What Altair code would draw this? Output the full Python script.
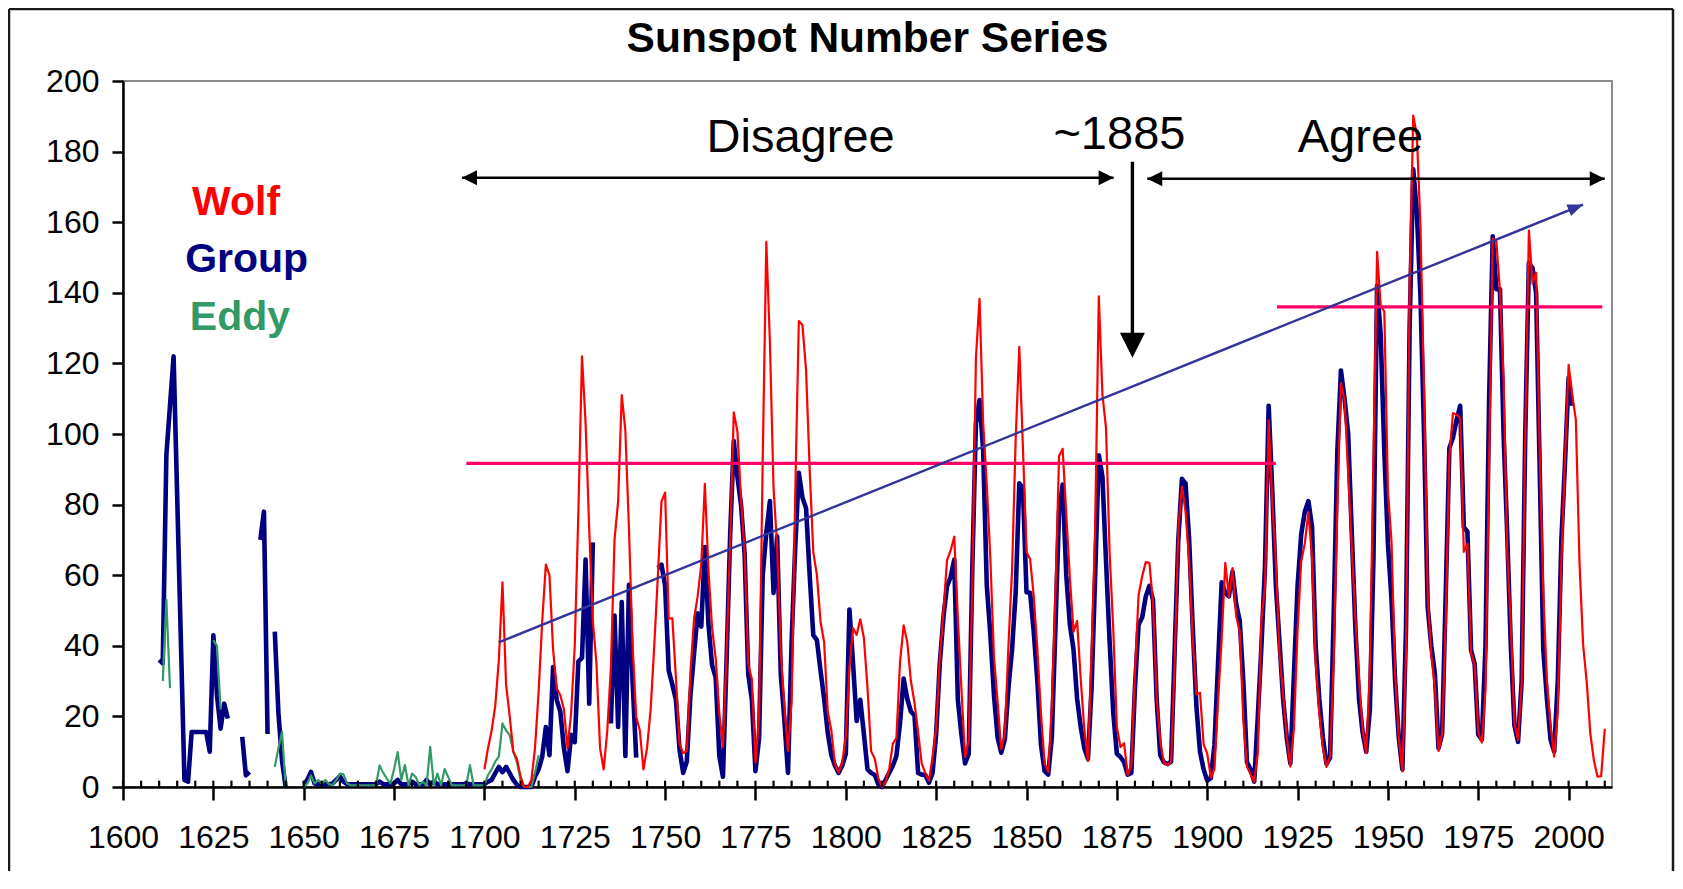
import altair as alt
import pandas as pd

# ---------------- data ----------------
WOLF_START = 1700
wolf = [5, 11, 16, 23, 36, 58, 29, 20, 10, 8,
        3, 0, 0, 2, 11, 27, 47, 63, 60, 39,
        28, 26, 22, 11, 21, 40, 78, 122, 103, 73,
        47, 35, 11, 5, 16, 34, 70, 81, 111, 101,
        73, 40, 20, 16, 5, 11, 22, 40, 60, 80.9,
        83.4, 47.7, 47.8, 30.7, 12.2, 9.6, 10.2, 32.4, 47.6, 54.0,
        62.9, 85.9, 61.2, 45.1, 36.4, 20.9, 11.4, 37.8, 69.8, 106.1,
        100.8, 81.6, 66.5, 34.8, 30.6, 7.0, 19.8, 92.5, 154.4, 125.9,
        84.8, 68.1, 38.5, 22.8, 10.2, 24.1, 82.9, 132.0, 130.9, 118.1,
        89.9, 66.6, 60.0, 46.9, 41.0, 21.3, 16.0, 6.4, 4.1, 6.8,
        14.5, 34.0, 45.0, 43.1, 47.5, 42.2, 28.1, 10.1, 8.1, 2.5,
        0.0, 1.4, 5.0, 12.2, 13.9, 35.4, 45.8, 41.1, 30.1, 23.9,
        15.6, 6.6, 4.0, 1.8, 8.5, 16.6, 36.3, 49.6, 64.2, 67.0,
        70.9, 47.8, 27.5, 8.5, 13.2, 56.9, 121.5, 138.3, 103.2, 85.7,
        64.6, 36.7, 24.2, 10.7, 15.0, 40.1, 61.5, 98.5, 124.7, 96.3,
        66.6, 64.5, 54.1, 39.0, 20.6, 6.7, 4.3, 22.7, 54.8, 93.8,
        95.8, 77.2, 59.1, 44.0, 47.0, 30.5, 16.3, 7.3, 37.6, 74.0,
        139.0, 111.2, 101.6, 66.2, 44.7, 17.0, 11.3, 12.4, 3.4, 6.0,
        32.3, 54.3, 59.7, 63.7, 63.5, 52.2, 25.4, 13.1, 6.8, 6.3,
        7.1, 35.6, 73.0, 85.1, 78.0, 64.0, 41.8, 26.2, 26.7, 12.1,
        9.5, 2.7, 5.0, 24.4, 42.0, 63.5, 53.8, 62.0, 48.5, 43.9,
        18.6, 5.7, 3.6, 1.4, 9.6, 47.4, 57.1, 103.9, 80.6, 63.6,
        37.6, 26.1, 14.2, 5.8, 16.7, 44.3, 63.9, 69.0, 77.8, 64.9,
        35.7, 21.2, 11.1, 5.7, 8.7, 36.1, 79.7, 114.4, 109.6, 88.8,
        67.8, 47.5, 30.6, 16.3, 9.6, 33.2, 92.6, 151.6, 136.3, 134.7,
        83.9, 69.4, 31.5, 13.9, 4.4, 38.0, 141.7, 190.2, 184.8, 159.0,
        112.3, 53.9, 37.6, 27.9, 10.2, 15.1, 47.0, 93.8, 105.9, 105.5,
        104.5, 66.6, 68.9, 38.0, 34.5, 15.5, 12.6, 27.5, 92.5, 155.4,
        154.6, 140.4, 115.9, 66.6, 45.9, 17.9, 13.4, 29.4, 100.2, 157.6,
        142.6, 145.7, 94.3, 54.6, 29.9, 17.5, 8.6, 21.5, 64.3, 93.3,
        119.6, 111.0, 104.0, 63.7, 40.4, 29.8, 15.2, 7.5, 2.9, 3.1,
        16.5]

N = None
GROUP_START = 1610
group = [36, 35, 94, 108, 122, 82, 42, 2, 1.5, 15.6,            # 1610-1619
         15.6, 15.6, 15.6, 15.6, 10, 43, 26, 16.5, 23.6, 19.4,  # 1620-1629
         N, N, N, 14.2, 3.3, 4.3, N, N, 70, 78,                  # 1630-1639
         15, N, 44, 21, 7.5, 0, N, N, N, N,                      # 1640-1649
         0.8, 2, 4.3, 1, 0.8, 0.8, 0.8, 0.8, 1, 2,               # 1650-1659
         3, 1.5, 0.8, 0.8, 0.8, 0.8, 0.8, 0.8, 0.8, 0.8,         # 1660-1669
         0.8, 1.5, 0.8, 0.8, 0.8, 1, 2, 0.8, 0.8, 0.8,           # 1670-1679
         1.5, 0.8, 0.8, 0.8, 2, 0.8, 1.5, 0.8, 0.8, 0.8,         # 1680-1689
         0.8, 0.8, 0.8, 0.8, 0.8, 1, 0.8, 0.8, 0.8, 0.8,         # 1690-1699
         0.8, 1.5, 2, 3.9, 5.7, 4.2, 5.7, 3.9, 2, 0.6,           # 1700-1709
         0, 0, 0, 0, 2.9, 5, 8.6, 17, 9, 34,                     # 1710-1719
         24.7, 21.4, 11, 4.5, 14.8, 12.7, 35.6, 36.6, 64.4, 23.6,  # 1720-1729
         69.3, N, N, N, N, 18, 48.6, 17, 52.4, 8.8,              # 1730-1739
         57.3, 30, 8.3, N, N, N, N, N, 62, 63,                   # 1740-1749
         57, 33, 29, 24.7, 10.5, 4, 7.2, 25.8, 37.7, 49.2,       # 1750-1759
         45.4, 68, 46, 34.5, 31, 8.8, 2.9, 35.6, 71.5, 98,       # 1760-1769
         88, 80, 66, 32, 24.7, 4.5, 13.8, 60, 72, 81,            # 1770-1779
         55, 71, 32, 19, 4, 41, 68, 89, 82, 79,                  # 1780-1789
         60, 43, 41.6, 33, 25, 15.4, 9, 6, 4, 6,                 # 1790-1799
         9.4, 50.3, 35, 18.7, 24.7, 15, 5, 4, 3.4, 0.7,          # 1800-1809
         0, 2, 4, 6, 8.8, 18.1, 30.7, 25, 21.4, 20.3,            # 1810-1819
         4, 3.5, 3.4, 1.2, 4, 15, 35, 48, 56.8, 59.5,            # 1820-1829
         64.4, 24.7, 14.8, 6.7, 9.4, 62, 103, 109.6, 95.5, 57.3,  # 1830-1839
         43, 26, 14, 9.7, 13.5, 28, 39, 55, 86, 84.6,            # 1840-1849
         55.2, 55, 44, 30, 12, 4.5, 3.5, 14, 45, 78,             # 1850-1859
         85.7, 60, 46, 39, 25, 17, 11, 8, 28, 60,                # 1860-1869
         94, 88, 64, 41, 21, 9.4, 8.5, 7, 3.5, 4,                # 1870-1879
         28, 46, 48, 54, 57, 53, 25, 9, 7, 6.5,                  # 1880-1889
         7.2, 39, 70, 87.3, 86, 70, 45, 23, 10, 5,               # 1890-1899
         1.8, 2.5, 12, 35, 58, 55, 54, 61, 51.9, 47,             # 1900-1909
         30, 7, 5, 1.5, 20, 40, 63, 108, 84, 57,                 # 1910-1919
         41, 25, 14, 6.7, 32, 57, 71.5, 78, 81, 73.7,            # 1920-1929
         40, 25, 14, 6.5, 8.3, 49, 95, 118, 110, 100,            # 1930-1939
         72, 45, 25, 15.4, 10, 22, 65, 142, 128, 95,             # 1940-1949
         69, 53, 30, 14, 5, 45, 130, 175, 163, 139,              # 1950-1959
         100, 51, 40, 32, 11, 15, 55, 96, 99, 104,               # 1960-1969
         108, 73.6, 72.3, 38.8, 34.8, 14.8, 13.4, 40, 110, 156,  # 1970-1979
         141, 141, 100, 72, 40, 17.5, 12.8, 30, 100, 148.5,      # 1980-1989
         147, 140, 90, 38.8, 25, 13.4, 10, 30, 70, 92,           # 1990-1999
         116, 108]                                               # 2000-2001

EDDY_START = 1611
eddy = [30, 53, 28, N, N, N, N, N, N, N,                         # 1611-1620
        N, N, N, N, 41.6, 40, 22, N, N, N,                       # 1621-1630
        N, N, N, N, N, N, N, N, N, N,                            # 1631-1640
        N, 5.7, 11, 15.6, 0, N, N, N, N, 0,                      # 1641-1650
        1, 3.3, 1, 2, 1, 2, 0.8, 0.5, 2, 3.8,                    # 1651-1660
        3.6, 1, 0.5, 0.5, 0.5, 0.5, 0.5, 0.5, 0.5, 0.5,          # 1661-1670
        6.1, 4, 2.4, 1, 5, 9.9, 2, 6.2, 0.5, 3.8,                # 1671-1680
        2.8, 0.5, 1.5, 0.5, 11.4, 0.5, 3.8, 0.5, 5.1, 2.8,       # 1681-1690
        0.5, 0.5, 0.5, 0.5, 0.5, 6.2, 0.5, 0.5, 0.5, 0.5,        # 1691-1700
        3.4, 5, 7.2, 8.6, 18, 16, 14.7, 10, 7, 2,                # 1701-1710
        0, 0, 0, 4, 9]                                           # 1711-1715

x_ticks = list(range(1600, 2001, 25))
minor_ticks = list(range(1600, 2011, 5))
y_ticks = list(range(0, 201, 20))

# horizontal reference levels (pink) and trend arrow (blue)
levels_year = [1695.0, 1919.3]
levels_year2 = [1919.0, 2009.3]
levels_value = [91.7, 136.0]
trend_from = (1704.0, 41.0)
trend_to = (2004.0, 165.0)

# black annotation arrows: shafts and heads
shaft_year = [1693.8, 1883.4, 1879.3]
shaft_year2 = [1874.1, 2010.0, 1879.3]
shaft_value = [172.6, 172.3, 177.1]
shaft_value2 = [172.6, 172.3, 128.5]
head_year = [1693.8, 1874.1, 1883.4, 2010.0, 1879.3]
head_value = [172.6, 172.6, 172.3, 172.3, 121.6]
head_angle = [180, 0, 180, 0, 90]
head_size = [225, 225, 225, 225, 625]

annot_text = ["Disagree", "~1885", "Agree"]
annot_year = [1787.5, 1875.7, 1942.4]
annot_value = [180.0, 180.6, 180.0]

legend_text = ["Wolf", "Group", "Eddy"]
legend_year = [1619.1, 1617.2, 1618.5]
legend_value = [162.0, 146.0, 129.5]
legend_color = ["#FF0000", "#000080", "#339966"]

FONT = "Liberation Sans"
W, H = 1489, 706


def series_frame(start, values):
    rows, seg, gap = [], 0, True
    for i, v in enumerate(values):
        if v is None:
            gap = True
            continue
        if gap:
            seg += 1
            gap = False
        rows.append({"year": start + i, "value": v, "seg": seg})
    return pd.DataFrame(rows)


wolf_df = pd.DataFrame({"year": [WOLF_START + i for i in range(len(wolf))], "value": wolf})
group_df = series_frame(GROUP_START, group)
eddy_df = series_frame(EDDY_START, eddy)

X = alt.X("year:Q",
          scale=alt.Scale(domain=[1600, 2012], nice=False, zero=False),
          axis=alt.Axis(values=x_ticks, format="d", title=None, grid=False,
                        tickSize=13, tickWidth=2.5, tickColor="black",
                        domainColor="black", domainWidth=2.5,
                        labelFontSize=32, labelFont=FONT, labelColor="black",
                        labelPadding=22, labelFlush=False, labelOverlap=False))
Y = alt.Y("value:Q",
          scale=alt.Scale(domain=[0, 200], nice=False, zero=True),
          axis=alt.Axis(values=y_ticks, title=None, grid=False,
                        tickSize=11, tickWidth=2.5, tickColor="black",
                        domainColor="black", domainWidth=2.5,
                        labelFontSize=32, labelFont=FONT, labelColor="black",
                        labelPadding=13, labelOverlap=False))

group_line = alt.Chart(group_df).mark_line(
    color="#000080", strokeWidth=4.6, strokeJoin="round"
).encode(x=X, y=Y, detail="seg:N", order="year:Q")

eddy_line = alt.Chart(eddy_df).mark_line(
    color="#339966", strokeWidth=2.2, strokeJoin="round"
).encode(x=X, y=Y, detail="seg:N", order="year:Q")

wolf_line = alt.Chart(wolf_df).mark_line(
    color="#FF0000", strokeWidth=2.2, strokeJoin="round"
).encode(x=X, y=Y, order="year:Q")

minor_df = pd.DataFrame({"year": minor_ticks, "value": 0.0, "value2": 1.8})
minor = alt.Chart(minor_df).mark_rule(color="black", strokeWidth=2.2).encode(
    x=X, y=Y, y2=alt.Y2("value2:Q"))

levels_df = pd.DataFrame({"year": levels_year, "year2": levels_year2, "value": levels_value})
levels = alt.Chart(levels_df).mark_rule(color="#FF0066", strokeWidth=3.2).encode(
    x=X, x2=alt.X2("year2:Q"), y=Y)

trend_df = pd.DataFrame({"year": [trend_from[0]], "value": [trend_from[1]],
                         "year2": [trend_to[0]], "value2": [trend_to[1]]})
trend = alt.Chart(trend_df).mark_rule(color="#333399", strokeWidth=2.4).encode(
    x=X, y=Y, x2=alt.X2("year2:Q"), y2=alt.Y2("value2:Q"))
trend_head_df = pd.DataFrame({"year": [trend_to[0]], "value": [trend_to[1]]})
trend_head = alt.Chart(trend_head_df).mark_point(
    shape="M0,0L-2,-0.8L-2,0.8Z", filled=True, opacity=1, size=240,
    color="#333399", angle=338, strokeWidth=0
).encode(x=X, y=Y)

shaft_df = pd.DataFrame({"year": shaft_year, "year2": shaft_year2,
                         "value": shaft_value, "value2": shaft_value2,
                         "w": [2.4, 2.4, 3.4]})
shafts = alt.Chart(shaft_df).mark_rule(color="black").encode(
    x=X, y=Y, x2=alt.X2("year2:Q"), y2=alt.Y2("value2:Q"),
    strokeWidth=alt.StrokeWidth("w:Q", scale=None))
head_df = pd.DataFrame({"year": head_year, "value": head_value,
                        "ang": head_angle, "sz": head_size})
heads = alt.Chart(head_df).mark_point(
    shape="M0,0L-2,-1L-2,1Z", filled=True, opacity=1, color="black", strokeWidth=0
).encode(x=X, y=Y, angle=alt.Angle("ang:Q", scale=None),
         size=alt.Size("sz:Q", scale=None))

annot_df = pd.DataFrame({"year": annot_year, "value": annot_value, "text": annot_text})
annots = alt.Chart(annot_df).mark_text(
    font=FONT, fontSize=47, color="black", align="center", baseline="alphabetic"
).encode(x=X, y=Y, text="text:N")

legend_df = pd.DataFrame({"year": legend_year, "value": legend_value,
                          "text": legend_text, "color": legend_color})
legend = alt.Chart(legend_df).mark_text(
    font=FONT, fontSize=41, fontWeight="bold", align="left", baseline="alphabetic"
).encode(x=X, y=Y, text="text:N", color=alt.Color("color:N", scale=None))

frame_df = pd.DataFrame({"k": [0]})
frame_top = alt.Chart(frame_df).mark_rule(color="#1a1a1a", strokeWidth=2.5).encode(
    x=alt.value(-114), x2=alt.value(1550), y=alt.value(-72))
frame_left = alt.Chart(frame_df).mark_rule(color="#1a1a1a", strokeWidth=2.5).encode(
    x=alt.value(-114), y=alt.value(-72), y2=alt.value(790))
frame_right = alt.Chart(frame_df).mark_rule(color="#1a1a1a", strokeWidth=2.5).encode(
    x=alt.value(1550), y=alt.value(-72), y2=alt.value(790))

chart = alt.layer(
    group_line, eddy_line, wolf_line, minor, levels, trend, trend_head,
    shafts, heads, annots, legend, frame_top, frame_left, frame_right
).properties(
    width=W, height=H,
    padding={"left": 115, "top": 73, "right": 63, "bottom": 84},
    autosize=alt.AutoSizeParams(type="none"),
    background="white",
    title=alt.TitleParams("Sunspot Number Series", font=FONT, fontSize=42.5,
                          fontWeight="bold", color="black", anchor="middle",
                          frame="group", baseline="alphabetic", offset=-87)
).configure_view(stroke="#8c8c8c", strokeWidth=2)

chart.save("out.html", embed_options={"renderer": "svg", "actions": False})
